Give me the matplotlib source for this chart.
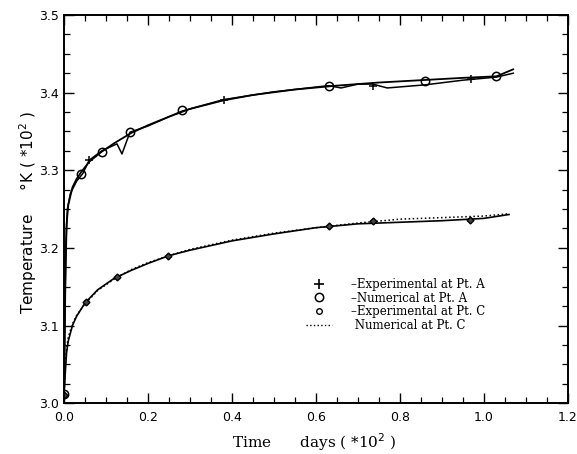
import matplotlib
matplotlib.use('Agg')
import matplotlib.pyplot as plt
from matplotlib.lines import Line2D
from matplotlib.ticker import MultipleLocator

# Pt. A  (time in days*10^2, temperature in K*10^2)
num_a_t = [0.0, 0.003, 0.006, 0.01, 0.02, 0.03, 0.04, 0.06, 0.09, 0.12, 0.16, 0.2, 0.25,
           0.3, 0.38, 0.45, 0.55, 0.65, 0.75, 0.85, 0.95, 1.03, 1.07]
num_a_T = [3.01, 3.15, 3.23, 3.255, 3.278, 3.289, 3.297, 3.311, 3.324, 3.335, 3.348, 3.358, 3.369,
           3.379, 3.39, 3.397, 3.404, 3.409, 3.413, 3.416, 3.419, 3.421, 3.43]
exp_a_t = [0.0, 0.004, 0.008, 0.015, 0.03, 0.045, 0.06, 0.09, 0.126, 0.138, 0.157, 0.2, 0.28,
           0.38, 0.5, 0.63, 0.66, 0.7, 0.735, 0.77, 0.86, 0.95, 1.03, 1.07]
exp_a_T = [3.01, 3.2, 3.25, 3.27, 3.286, 3.296, 3.313, 3.325, 3.334, 3.321, 3.349, 3.357, 3.376,
           3.391, 3.401, 3.409, 3.406, 3.411, 3.411, 3.406, 3.41, 3.416, 3.42, 3.425]
mark_exp_a_t = [0.06, 0.38, 0.735, 0.97]
mark_exp_a_T = [3.313, 3.391, 3.409, 3.418]
mark_num_a_t = [0.0, 0.04, 0.09, 0.157, 0.28, 0.63, 0.86, 1.03]
mark_num_a_T = [3.012, 3.295, 3.324, 3.349, 3.377, 3.409, 3.415, 3.421]

# Pt. C
num_c_t = [0.0, 0.003, 0.006, 0.01, 0.02, 0.03, 0.05, 0.08, 0.12, 0.16, 0.2, 0.25, 0.3,
           0.4, 0.5, 0.6, 0.7, 0.8, 0.9, 1.0, 1.06]
num_c_T = [3.01, 3.05, 3.07, 3.085, 3.102, 3.113, 3.128, 3.145, 3.16, 3.172, 3.181, 3.19, 3.198,
           3.21, 3.219, 3.226, 3.232, 3.237, 3.239, 3.241, 3.244]
exp_c_t = num_c_t
exp_c_T = [3.01, 3.04, 3.065, 3.08, 3.1, 3.112, 3.129, 3.146, 3.161, 3.171, 3.18, 3.19, 3.197,
           3.209, 3.218, 3.226, 3.231, 3.233, 3.235, 3.238, 3.243]
mark_exp_c_t = [0.0, 0.052, 0.126, 0.248, 0.63, 0.735, 0.967]
mark_exp_c_T = [3.01, 3.13, 3.162, 3.19, 3.228, 3.234, 3.236]

legend_labels = ['\u2013Experimental at Pt. A', '\u2013Numerical at Pt. A',
                 '\u2013Experimental at Pt. C', ' Numerical at Pt. C']

fig = plt.figure(figsize=(5.77, 4.54), dpi=100)
ax = fig.add_axes([0.111, 0.112, 0.873, 0.855])

ax.plot(num_a_t, num_a_T, color='black', lw=1.3)
ax.plot(exp_a_t, exp_a_T, color='black', lw=1.1)
ax.plot(mark_exp_a_t, mark_exp_a_T, ls='none', marker='+', ms=6, mew=1.1, color='black')
ax.plot(mark_num_a_t, mark_num_a_T, ls='none', marker='o', ms=6, mfc='none', mew=1.1, color='black')

ax.plot(num_c_t, num_c_T, color='black', lw=1.1, ls=':')
ax.plot(exp_c_t, exp_c_T, color='black', lw=1.2)
ax.plot(mark_exp_c_t, mark_exp_c_T, ls='none', marker='D', ms=3.5, mfc='#444444', mew=1.0, color='black')

ax.set_xlim(0, 1.2)
ax.set_ylim(3.0, 3.5)
ax.xaxis.set_major_locator(MultipleLocator(0.2))
ax.xaxis.set_minor_locator(MultipleLocator(0.05))
ax.yaxis.set_major_locator(MultipleLocator(0.1))
ax.yaxis.set_minor_locator(MultipleLocator(0.025))
ax.xaxis.set_major_formatter(plt.FuncFormatter(lambda v, p: f'{v:.1f}'))
ax.yaxis.set_major_formatter(plt.FuncFormatter(lambda v, p: f'{v:.1f}'))
ax.tick_params(which='both', direction='in', top=True, right=True, labelsize=9)
ax.tick_params(axis='x', which='major', pad=6)
ax.tick_params(which='major', length=7, width=1.0)
ax.tick_params(which='minor', length=4, width=0.9)
for s in ax.spines.values():
    s.set_linewidth(1.4)

handles = [Line2D([], [], ls='none', marker='+', ms=7, mew=1.2, color='black'),
           Line2D([], [], ls='none', marker='o', ms=6, mfc='none', mew=1.1, color='black'),
           Line2D([], [], ls='none', marker='o', ms=4, mfc='none', mew=1.0, color='black'),
           Line2D([], [], ls=':', lw=1.0, color='black')]
ax.legend(handles, legend_labels, loc='upper left', bbox_to_anchor=(0.46, 0.35),
          frameon=False, handlelength=2.2, handletextpad=1.6, labelspacing=0.05,
          prop={'family': 'DejaVu Serif', 'size': 8.5})

fig.text(28 / 577, 1 - 213 / 454, 'Temperature     \u00b0K ( *10$^2$ )', rotation=90,
         ha='center', va='center', fontsize=11)
fig.text(314 / 577, 1 - 442 / 454, 'Time      days ( *10$^2$ )', ha='center', va='center',
         fontsize=11, family='DejaVu Serif')

fig.savefig('out.png', dpi=100)
